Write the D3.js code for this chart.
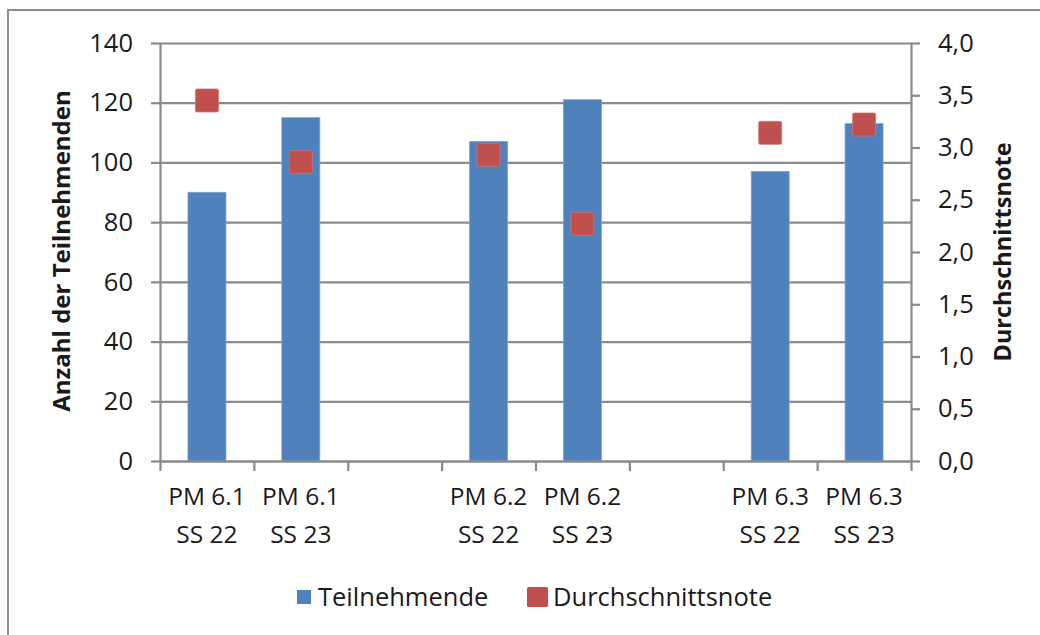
<!DOCTYPE html>
<html><head><meta charset="utf-8">
<script src="https://cdn.jsdelivr.net/npm/d3@7"></script>
<style>
html,body{margin:0;padding:0;background:#fff;}
svg text{font-family:"Open Sans",sans-serif;fill:#1a1a1a;}
</style></head>
<body><svg id="c" width="1040" height="635"></svg>
<script>
const catLine1 = ["PM 6.1","PM 6.1","","PM 6.2","PM 6.2","","PM 6.3","PM 6.3"];
const catLine2 = ["SS 22","SS 23","","SS 22","SS 23","","SS 22","SS 23"];
const teilnehmende = [90,115,null,107,121,null,97,113];
const durchschnittsnote = [3.45,2.86,null,2.93,2.27,null,3.14,3.22];
const leftTicks = [0,20,40,60,80,100,120,140];
const rightTicks = [0,0.5,1,1.5,2,2.5,3,3.5,4];
const seriesNames = ["Teilnehmende","Durchschnittsnote"];

const svg = d3.select("#c");
const blue = "#4F81BD", red = "#C0504D", grid = "#8a8a8a";
const L = 160, R = 911, T = 43, B = 461;

svg.append("rect").attr("x",8).attr("y",10).attr("width",1200).attr("height",800)
  .attr("fill","none").attr("stroke","#8c8c8c").attr("stroke-width",2);

const idx = d3.range(catLine1.length);
const xb = d3.scaleBand().domain(idx).range([L,R]).padding(0);
const xl = d3.scaleLinear().domain([0,idx.length]).range([L,R]);
const yL = d3.scaleLinear().domain([0,140]).range([B,T]);
const yR = d3.scaleLinear().domain([0,4]).range([B,T]);

// gridlines
const gg = svg.append("g").attr("transform",`translate(${L},0)`)
  .call(d3.axisLeft(yL).tickValues(leftTicks).tickSize(-(R-L)).tickFormat(""));
gg.select(".domain").remove();
gg.selectAll("line").attr("stroke",grid).attr("stroke-width",2.2);

// bars
const bw = xb.bandwidth()*0.405;
svg.append("g").selectAll("rect").data(idx.filter(i=>teilnehmende[i]!=null)).join("rect")
  .attr("x",i=>xb(i)+xb.bandwidth()/2-bw/2).attr("width",bw)
  .attr("y",i=>yL(teilnehmende[i])).attr("height",i=>B-yL(teilnehmende[i]))
  .attr("fill",blue).attr("stroke","#7ea3d4").attr("stroke-width",0.8);

// left axis
const ga = svg.append("g").attr("transform",`translate(${L},0)`)
  .call(d3.axisLeft(yL).tickValues(leftTicks).tickSize(9).tickPadding(18).tickSizeOuter(0));
ga.select(".domain").attr("stroke",grid).attr("stroke-width",2.2);
ga.selectAll("line").attr("stroke",grid).attr("stroke-width",2.2);
ga.selectAll("text").attr("font-size",25.5).attr("font-family","Open Sans").attr("fill","#1a1a1a");

// right axis
const fmt = d => d3.format(".1f")(d).replace(".",",");
const gr = svg.append("g").attr("transform",`translate(${R},0)`)
  .call(d3.axisRight(yR).tickValues(rightTicks).tickSize(9).tickPadding(18).tickSizeOuter(0).tickFormat(fmt));
gr.select(".domain").attr("stroke",grid).attr("stroke-width",2.2);
gr.selectAll("line").attr("stroke",grid).attr("stroke-width",2.2);
gr.selectAll("text").attr("font-size",25.5).attr("font-family","Open Sans").attr("fill","#1a1a1a");

// bottom axis ticks at category boundaries
const gx = svg.append("g").attr("transform",`translate(0,${B})`)
  .call(d3.axisBottom(xl).ticks(idx.length).tickSize(10).tickSizeOuter(0).tickFormat(""));
gx.select(".domain").attr("stroke",grid).attr("stroke-width",2.2);
gx.selectAll("line").attr("stroke",grid).attr("stroke-width",2.2);

// category labels
const lab = svg.append("g");
idx.forEach(i=>{
  const cx = xb(i)+xb.bandwidth()/2;
  lab.append("text").attr("x",cx).attr("y",505).attr("text-anchor","middle").attr("font-size",24.5).text(catLine1[i]);
  lab.append("text").attr("x",cx).attr("y",543).attr("text-anchor","middle").attr("font-size",24.5).text(catLine2[i]);
});

// markers
const ms = 23;
svg.append("g").selectAll("rect").data(idx.filter(i=>durchschnittsnote[i]!=null)).join("rect")
  .attr("x",i=>xb(i)+xb.bandwidth()/2-ms/2).attr("y",i=>yR(durchschnittsnote[i])-ms/2)
  .attr("width",ms).attr("height",ms).attr("rx",1.5)
  .attr("fill",red).attr("stroke","#d07572").attr("stroke-width",0.8);

// axis titles
svg.append("text").attr("transform",`translate(70,251) rotate(-90)`).attr("text-anchor","middle")
  .attr("font-size",24).attr("font-weight","bold").text("Anzahl der Teilnehmenden");
svg.append("text").attr("transform",`translate(1011,252) rotate(-90)`).attr("text-anchor","middle")
  .attr("font-size",23.5).attr("font-weight","bold").text("Durchschnittsnote");

// legend
const lg = svg.append("g");
lg.append("rect").attr("x",297).attr("y",590).attr("width",14).attr("height",14).attr("fill",blue);
lg.append("text").attr("x",318).attr("y",606).attr("font-size",25.5).text(seriesNames[0]);
lg.append("rect").attr("x",527).attr("y",587).attr("width",21).attr("height",20).attr("fill",red).attr("rx",1.5);
lg.append("text").attr("x",553).attr("y",606).attr("font-size",25.5).text(seriesNames[1]);
</script></body></html>
